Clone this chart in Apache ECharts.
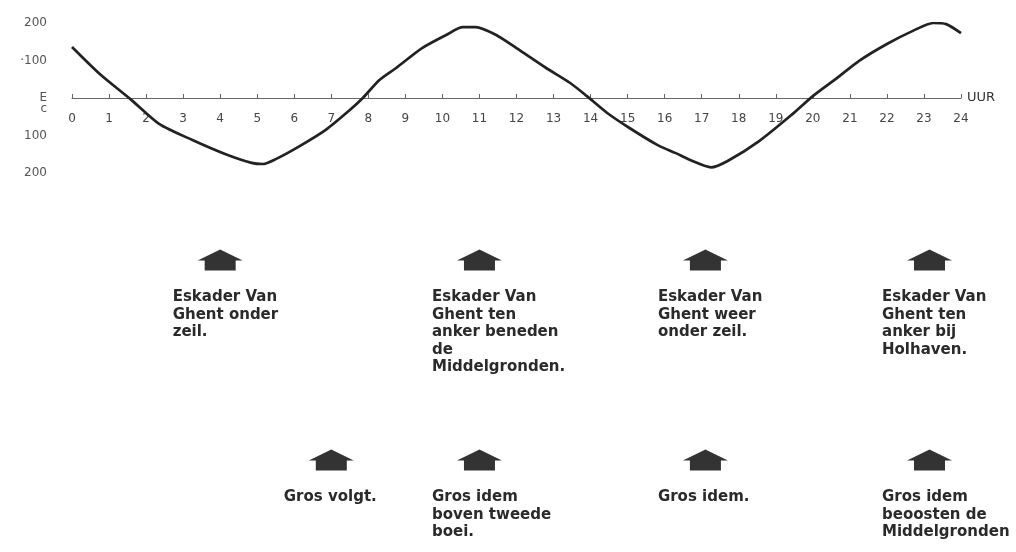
<!DOCTYPE html>
<html><head><meta charset="utf-8">
<script src="https://cdn.jsdelivr.net/npm/echarts@6/dist/echarts.min.js"></script>
<style>html,body{margin:0;padding:0;background:#fff}#c{width:1016px;height:552px}</style>
</head><body><div id="c"></div>
<script>
// Tide curve (hours, cm)
const hours = [0, 0.75, 1.6, 2.35, 3.25, 4.15, 4.85, 5.15, 5.5, 6.1, 6.85, 7.5, 7.85, 8.3, 8.75, 9.45, 10.1, 10.55, 10.9, 11.45, 12, 12.8, 13.45, 13.9, 14.45, 15.05, 15.8, 16.3, 16.75, 17.25, 17.7, 18.55, 19.45, 20, 20.65, 21.25, 22, 22.7, 23.25, 23.6, 24];
const tide  = [136, 64, -5, -69, -112, -150, -173, -176, -163, -131, -85, -32, 0, 48, 80, 133, 168, 189, 189, 168, 133, 80, 40, 5, -40, -80, -125, -147, -168, -185, -168, -115, -43, 5, 53, 99, 144, 179, 200, 197, 173];
const yTickLabels = {'200':'200','100':'·100','0':'\nE\nc','-100':'100','-200':'200'};
const xUnit = 'UUR';
// Annotations
const topHours = [4, 11, 17.1, 23.15];
const topTexts = ['Eskader Van\nGhent onder\nzeil.', 'Eskader Van\nGhent ten\nanker beneden\nde\nMiddelgronden.', 'Eskader Van\nGhent weer\nonder zeil.', 'Eskader Van\nGhent ten\nanker bij\nHolhaven.'];
const bottomHours = [7, 11, 17.1, 23.15];
const bottomTexts = ['Gros volgt.', 'Gros idem\nboven tweede\nboei.', 'Gros idem.', 'Gros idem\nbeoosten de\nMiddelgronden'];

const arrowPath = 'path://M0,11 L22.5,0 L45,11 L38,11 L38,21 L7,21 L7,11 Z';
const annData = topHours.map((h,i)=>[h,1,topTexts[i]]).concat(bottomHours.map((h,i)=>[h,0,bottomTexts[i]]));

const chart = echarts.init(document.getElementById('c'));
chart.setOption({
  backgroundColor:'#fff',
  animation:false,
  grid:[
    {left:72, width:889, top:23, height:150},
    {left:72, width:889, top:260, height:200}
  ],
  xAxis:[
    {gridIndex:0, type:'value', min:0, max:24, interval:1,
     name:xUnit, nameLocation:'end', nameGap:6,
     nameTextStyle:{color:'#333', fontSize:13, fontFamily:'DejaVu Sans', verticalAlign:'middle'},
     axisLine:{onZero:true, lineStyle:{color:'#666', width:1}},
     axisTick:{inside:true, length:4, lineStyle:{color:'#666'}},
     axisLabel:{margin:-60, color:'#444', fontSize:12, fontFamily:'DejaVu Sans'},
     splitLine:{show:false}},
    {gridIndex:1, type:'value', min:0, max:24, show:false}
  ],
  yAxis:[
    {gridIndex:0, type:'value', min:-200, max:200, interval:100,
     axisLine:{show:false}, axisTick:{show:false}, splitLine:{show:false},
     axisLabel:{margin:25, color:'#555', fontSize:12, fontFamily:'DejaVu Sans', lineHeight:11,
       formatter:v=>yTickLabels[String(v)]}},
    {gridIndex:1, type:'value', min:0, max:1, show:false}
  ],
  series:[
    {type:'line', xAxisIndex:0, yAxisIndex:0, data:hours.map((h,i)=>[h,tide[i]]),
     smooth:0.25, symbol:'none', lineStyle:{color:'#222', width:2.7}},
    {type:'scatter', xAxisIndex:1, yAxisIndex:1, data:annData,
     symbol:arrowPath, symbolSize:[45,21], itemStyle:{color:'#333', opacity:1},
     label:{show:true, position:[-25,39], align:'left', verticalAlign:'top',
       formatter:p=>p.data[2], color:'#2a2a2a', fontSize:15, fontWeight:'bold',
       fontFamily:'DejaVu Sans', lineHeight:17.5}}
  ]
});
</script></body></html>
